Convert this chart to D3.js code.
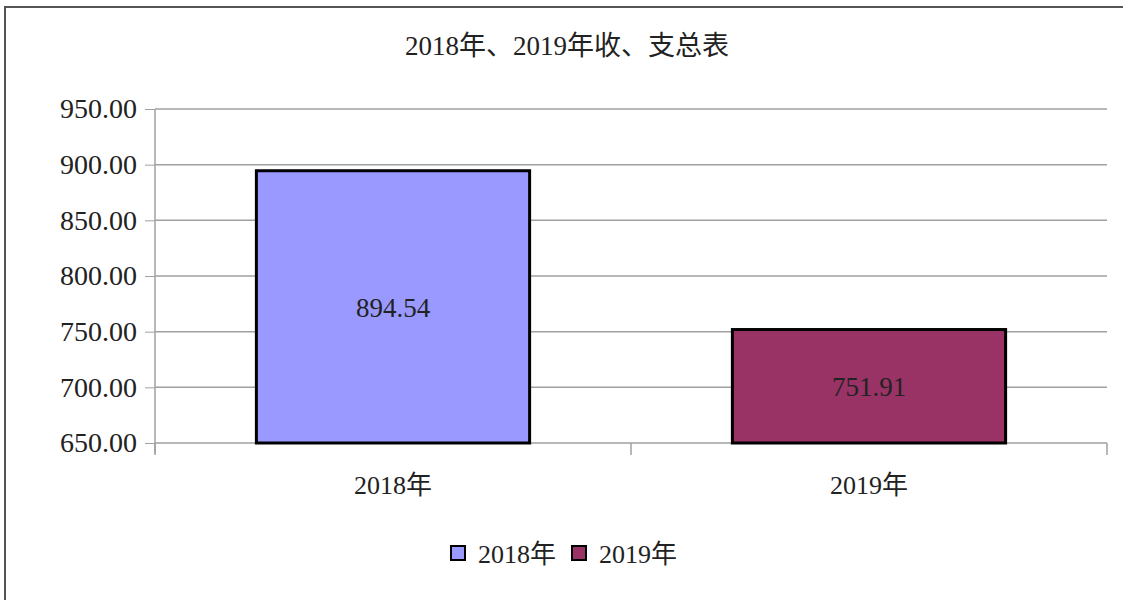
<!DOCTYPE html>
<html>
<head>
<meta charset="utf-8">
<script src="https://cdn.jsdelivr.net/npm/d3@7"></script>
<style>
  body { margin: 0; background: #fff; }
  text { font-family: "Liberation Serif", "Noto Sans CJK SC", serif; fill: #222; }
</style>
</head>
<body>
<div id="chart"></div>
<script>
// data
const categories = ["2018年", "2019年"]
const values = [894.54, 751.91]
const barColors = ["#9999ff", "#993366"]
const yTicks = [650, 700, 750, 800, 850, 900, 950]
const title = "2018年、2019年收、支总表"

const width = 1123, height = 600
const margin = {top: 109, right: 16, bottom: 157, left: 155}

const svg = d3.select("#chart").append("svg")
    .attr("width", width)
    .attr("height", height)

// outer frame
svg.append("rect")
    .attr("x", 5).attr("y", 7)
    .attr("width", width + 20).attr("height", height + 20)
    .attr("fill", "none")
    .attr("stroke", "#555")
    .attr("stroke-width", 2)

// scales
const x = d3.scaleBand()
    .domain(categories)
    .range([margin.left, width - margin.right])
    .paddingInner(0.426)
    .paddingOuter(0.213)

const xBand = d3.scaleBand()
    .domain(categories)
    .range([margin.left, width - margin.right])

const y = d3.scaleLinear()
    .domain([650, 950])
    .range([height - margin.bottom, margin.top])

// gridlines + y labels
const yAxis = svg.append("g")
    .attr("transform", `translate(${margin.left},0)`)
    .call(d3.axisLeft(y).tickValues(yTicks).tickFormat(d3.format(".2f"))
      .tickSize(10).tickPadding(8))
yAxis.attr("font-family", null)
yAxis.select(".domain").remove()
yAxis.selectAll(".tick line").attr("stroke", "#a0a0a0")
yAxis.selectAll(".tick text")
    .style("font-size", "28px")
    .attr("fill", "#222")

svg.append("g")
  .selectAll("line")
  .data(yTicks)
  .join("line")
    .attr("x1", margin.left)
    .attr("x2", width - margin.right)
    .attr("y1", d => y(d))
    .attr("y2", d => y(d))
    .attr("stroke", "#a0a0a0")
    .attr("stroke-width", 1.5)

// left axis line
svg.append("line")
    .attr("x1", margin.left).attr("x2", margin.left)
    .attr("y1", y(950)).attr("y2", y(650) + 10)
    .attr("stroke", "#a0a0a0")
    .attr("stroke-width", 1.5)

// x category separators
const sepX = [margin.left, ...categories.map(c => xBand(c) + xBand.bandwidth())]
svg.append("g")
  .selectAll("line")
  .data(sepX)
  .join("line")
    .attr("x1", d => d).attr("x2", d => d)
    .attr("y1", y(650)).attr("y2", y(650) + 12)
    .attr("stroke", "#a0a0a0")
    .attr("stroke-width", 1.5)

// bars
svg.append("g")
  .selectAll("rect")
  .data(values)
  .join("rect")
    .attr("x", (d, i) => x(categories[i]))
    .attr("y", d => y(d))
    .attr("width", x.bandwidth())
    .attr("height", d => y(650) - y(d))
    .attr("fill", (d, i) => barColors[i])
    .attr("stroke", "#000")
    .attr("stroke-width", 3)

// value labels
svg.append("g")
  .selectAll("text")
  .data(values)
  .join("text")
    .attr("x", (d, i) => x(categories[i]) + x.bandwidth() / 2)
    .attr("y", d => (y(d) + y(650)) / 2 + 1)
    .attr("text-anchor", "middle")
    .attr("dominant-baseline", "central")
    .style("font-size", "27px")
    .attr("fill", (d, i) => i == 0 ? "#222" : "#2a0a1a")
    .text(d => d3.format(".2f")(d))

// category labels
svg.append("g")
  .selectAll("text")
  .data(categories)
  .join("text")
    .attr("x", d => xBand(d) + xBand.bandwidth() / 2)
    .attr("y", y(650) + 42)
    .attr("text-anchor", "middle")
    .attr("dominant-baseline", "central")
    .style("font-size", "26px")
    .text(d => d)

// title
svg.append("text")
    .attr("x", 567)
    .attr("y", 46)
    .attr("text-anchor", "middle")
    .attr("dominant-baseline", "central")
    .style("font-size", "27px")
    .text(title)

// legend
const legend = svg.append("g")
  .selectAll("g")
  .data(categories)
  .join("g")
    .attr("transform", (d, i) => `translate(${451 + i * 121},553)`)
legend.append("rect")
    .attr("x", 0).attr("y", -7)
    .attr("width", 14).attr("height", 14)
    .attr("fill", (d, i) => barColors[i])
    .attr("stroke", "#000")
    .attr("stroke-width", 2)
legend.append("text")
    .attr("x", 27)
    .attr("y", 1)
    .attr("dominant-baseline", "central")
    .style("font-size", "26px")
    .text(d => d)
</script>
</body>
</html>
